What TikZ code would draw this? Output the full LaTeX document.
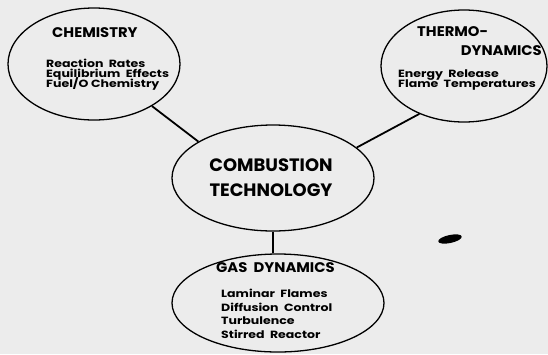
\documentclass[tikz,border=0pt]{standalone}
\usepackage{fontspec}
\setmainfont{Poppins}[BoldFont={Poppins Bold}]
\newfontfamily\headfont{Poppins}[BoldFont={Poppins Bold}, BoldFeatures={FakeStretch=1.06}]
\newfontfamily\itemfont{Poppins}[BoldFont={Poppins Bold}, BoldFeatures={FakeStretch=1.2}]
\usepackage{xcolor}
\usetikzlibrary{shapes.geometric}
\definecolor{paper}{RGB}{236,236,236}
\newcommand\tightlines{\lineskiplimit=-20pt\relax}
\tikzset{
	bubble/.style={draw, line width=1.3pt, ellipse, inner sep=0pt},
	link/.style={line width=1.8pt},
	head/.style={font=\headfont\fontsize{14}{14}\selectfont\bfseries, inner sep=0pt},
	items/.style={font={\itemfont\fontsize{10.5}{10}\selectfont\bfseries\tightlines}, align=left, inner sep=0pt, anchor=base west},
}
\begin{document}
\begin{tikzpicture}[x=1bp,y=-1bp]
		\fill[paper] (0,0) rectangle (548,354);
		\useasboundingbox (0,0) rectangle (548,354);
		\node[bubble, minimum width=172bp, minimum height=112bp] (chem) at (94,64) {};
		\node[bubble, minimum width=166bp, minimum height=112bp] (thermo) at (464,66) {};
		\node[bubble, minimum width=202bp, minimum height=106bp] (comb) at (273,178) {};
		\node[bubble, minimum width=212bp, minimum height=98bp] (gas) at (278,303) {};
		\node[head, anchor=base west] (chemhead) at (52,37.3) {CHEMISTRY};
		\node[items] (chemlist) at (46,87.3) {Reaction\ \ Rates\\Equilibrium\ \ Effects\\Fuel/O\ Chemistry};
		\node[head, anchor=base west] (thermohead) at (417,36.7) {THERMO-};
		\node[head, anchor=base east] (thermohead2) at (542,55) {DYNAMICS};
		\node[items] (thermolist) at (398,87) {Energy\ \ Release\\Flame\ \ Temperatures};
		\node[head, font=\fontsize{18}{18}\selectfont\bfseries, anchor=base] (combhead) at (271,171.7) {COMBUSTION};
		\node[head, font=\fontsize{18}{18}\selectfont\bfseries, anchor=base] (combhead2) at (271,196) {TECHNOLOGY};
		\node[head, anchor=base west] (gashead) at (216,272) {GAS\ \ DYNAMICS};
		\node[items, font={\itemfont\fontsize{10.5}{13.4}\selectfont\bfseries\tightlines}] (gaslist) at (221,338) {Laminar\ \ Flames\\Diffusion\ \ Control\\Turbulence\\Stirred\ \ Reactor};
		\draw[link] (chem.-36) -- (comb.154);
		\draw[link] (thermo.-133) -- (comb.20);
		\draw[link] (comb.south) -- (comb.south |- gas.north);
		\fill (450,239) ellipse [x radius=12, y radius=4, rotate=12];
	\end{tikzpicture}
\end{document}
